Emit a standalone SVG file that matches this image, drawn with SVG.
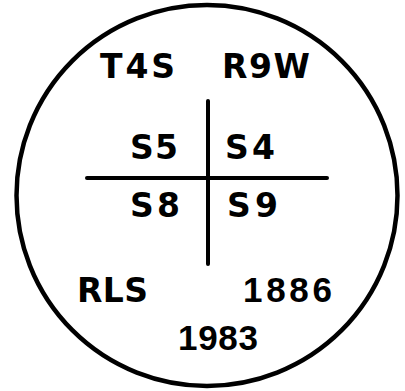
<svg xmlns="http://www.w3.org/2000/svg" width="405" height="391" viewBox="0 0 405 391">
<style>
.t{font-family:"DejaVu Sans","Liberation Sans",Arial,sans-serif;font-weight:bold;font-size:33px;fill:#000}
.n{font-family:"Liberation Sans",Arial,sans-serif;font-weight:bold;font-size:35px;fill:#000}
.ln{stroke:#000;stroke-width:4;stroke-linecap:round;fill:none}
</style>
<rect width="405" height="391" fill="#fff"/>
<g id="cap"><circle cx="207" cy="195.5" r="190.5" fill="none" stroke="#000" stroke-width="4.5"/></g>
<g id="connectors">
<line class="ln" x1="208" y1="101" x2="208" y2="264"/>
<line class="ln" x1="87" y1="178" x2="327" y2="178"/>
</g>
<g id="labels">
<text class="t" x="100" y="78" textLength="75" lengthAdjust="spacing">T4S</text>
<text class="t" x="222" y="78" textLength="88" lengthAdjust="spacing">R9W</text>
<text class="t" x="130" y="159" textLength="48" lengthAdjust="spacing">S5</text>
<text class="t" x="225" y="159" textLength="50" lengthAdjust="spacing">S4</text>
<text class="t" x="130" y="217" textLength="50" lengthAdjust="spacing">S8</text>
<text class="t" x="227" y="217" textLength="51" lengthAdjust="spacing">S9</text>
<text class="t" x="77" y="302" textLength="71" lengthAdjust="spacing">RLS</text>
<text class="n" x="243" y="302" textLength="89" lengthAdjust="spacing">1886</text>
<text class="n" x="178" y="350" textLength="80" lengthAdjust="spacing">1983</text>
</g>
</svg>
